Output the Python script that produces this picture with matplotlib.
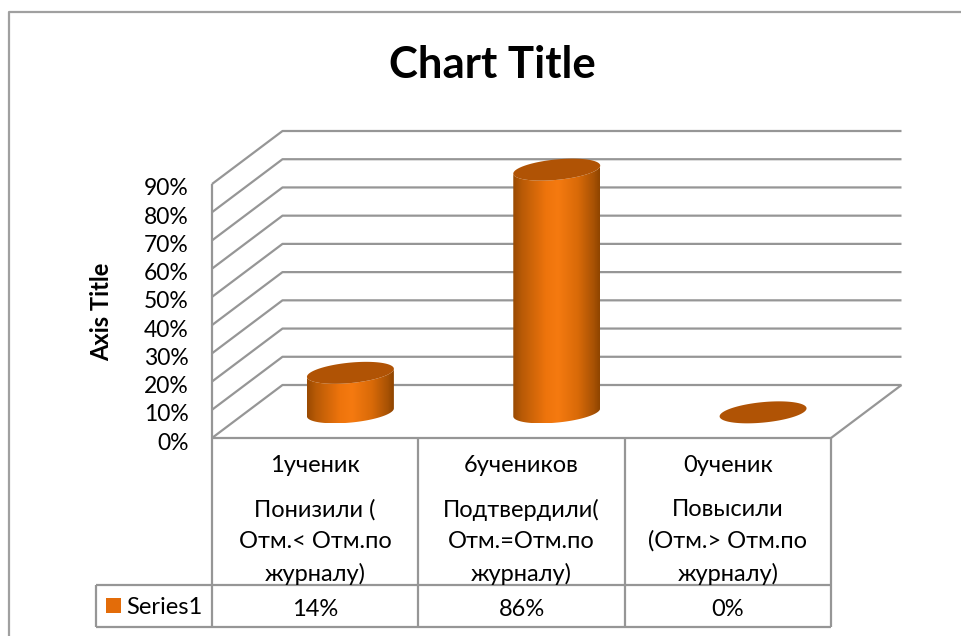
import matplotlib
matplotlib.use('Agg')
import matplotlib.pyplot as plt
import numpy as np
from matplotlib.colors import LinearSegmentedColormap
from matplotlib.lines import Line2D
from matplotlib.patches import Polygon, Rectangle
from matplotlib.transforms import ScaledTranslation

plt.rcParams['font.family'] = ['Lato', 'Noto Sans', 'DejaVu Sans']

counts = ['1ученик', '6учеников', '0ученик']
groups = ['Понизили (\nОтм.< Отм.по\nжурналу)',
          'Подтвердили(\nОтм.=Отм.по\nжурналу)',
          'Повысили\n(Отм.> Отм.по\nжурналу)']
values = [14, 86, 0]
valueLabels = ['14%', '86%', '0%']
yTicks = [0, 10, 20, 30, 40, 50, 60, 70, 80, 90]
seriesName = 'Series1'

W, H = 962, 636
LEFT, RIGHT, BASE, TOP = 212, 831, 438, 184
GRID = '#969696'
LID = '#B05305'
TEXT = 17

fig = plt.figure(figsize=(W / 100, H / 100), dpi=100)
ax = fig.add_axes([LEFT / W, 1 - BASE / H, (RIGHT - LEFT) / W, (BASE - TOP) / H])
ax.set_xlim(0, len(values))
ax.set_ylim(0, 90)
ax.set_facecolor('none')

# px -> data scale
sx = len(values) / (RIGHT - LEFT)
sy = 90 / (BASE - TOP)
depthX = 70.5 * sx
depthY = 53 * sy

for s in ax.spines.values():
    s.set_visible(False)
ax.set_xticks([])
ax.set_yticks(yTicks)
ax.set_yticklabels(['%d%%' % t for t in yTicks], fontsize=16.5, color='black')
ax.tick_params(axis='y', length=0, pad=17)
# labels sit a little under their gridline
down = ScaledTranslation(0, -3 / 100, fig.dpi_scale_trans)
for lab in ax.get_yticklabels():
    lab.set_transform(lab.get_transform() + down)


def line(xs, ys, lw=1.6):
    ax.plot(xs, ys, color=GRID, lw=lw, clip_on=False, solid_capstyle='butt', zorder=1)


# walls and floor
for t in yTicks:
    line([0, depthX, len(values) + depthX], [t, t + depthY, t + depthY])
line([0, 0], [0, 90])
line([len(values), len(values) + depthX], [0, depthY])

# data table
row1 = -(585 - BASE) * sy
row2 = -(627 - BASE) * sy
legendX = -(LEFT - 96) * sx
line([0, len(values)], [0, 0])
line([legendX, len(values)], [row1, row1])
line([legendX, len(values)], [row2, row2])
line([legendX, legendX], [row1, row2])
for i in range(len(values) + 1):
    line([i, i], [0, row2])

for i in range(len(values)):
    ax.text(i + 0.5, -(466 - BASE) * sy, counts[i], ha='center', va='center', fontsize=TEXT)
    ax.text(i + 0.5, -(542 - BASE) * sy, groups[i], ha='center', va='center', fontsize=TEXT,
            linespacing=1.6)
    ax.text(i + 0.5, -(609 - BASE) * sy, valueLabels[i], ha='center', va='center', fontsize=TEXT)
ax.add_patch(Rectangle((legendX + 10 * sx, -(613 - BASE) * sy), 15 * sx, 15 * sy,
                       fc='#E36C09', ec='none', clip_on=False, zorder=3))
ax.text(legendX + 30 * sx, -(607 - BASE) * sy, seriesName, ha='left', va='center', fontsize=TEXT)

# cylinders
rx, shear, ry = 40.5 * sx, 15.8 * sx, 11 * sy
cmap = LinearSegmentedColormap.from_list('cyl', [(0, '#9A4A02'), (0.1, '#B85A06'), (0.38, '#EE740C'),
                                                 (0.52, '#F57A10'), (0.75, '#D96A08'), (0.93, '#A85204'),
                                                 (1, '#8F4500')])
tangent = np.arctan2(shear, rx)


def rim(cx, cy, t):
    return np.column_stack([cx + rx * np.cos(t) + shear * np.sin(t), cy + ry * np.sin(t)])


for i, v in enumerate(values):
    cx = i + 0.5 + depthX / 2
    cy = depthY / 2 - 0.3
    full = np.linspace(0, 2 * np.pi, 120)
    if v > 0:
        front = np.linspace(tangent + np.pi, tangent + 2 * np.pi, 60)
        pts = np.vstack([rim(cx, cy, front), rim(cx, cy + v, front[::-1])])
        halfW = np.hypot(rx, shear)
        img = ax.imshow(np.linspace(0, 1, 200).reshape(1, -1), cmap=cmap, aspect='auto',
                        extent=[cx - halfW, cx + halfW, cy - ry, cy + v + ry], zorder=2)
        clip = Polygon(pts, closed=True, transform=ax.transData, fc='none', ec='none')
        ax.add_patch(clip)
        img.set_clip_path(clip)
        img.set_clip_box(fig.bbox)
    ax.add_patch(Polygon(rim(cx, cy + v, full), closed=True, fc=LID, ec='none', zorder=3, clip_on=False))

ax.set_xlim(0, len(values))
ax.set_ylim(0, 90)

# chart frame
fig.add_artist(Line2D([9 / W, 9 / W, 1], [0, 1 - 12 / H, 1 - 12 / H], color='#A0A0A0', lw=1.6))

fig.text(492 / W, 1 - 65 / H, 'Chart Title', ha='center', va='center', fontsize=31.5, fontweight='bold')
fig.text(102 / W, 1 - 312 / H, 'Axis Title', ha='center', va='center', rotation=90,
         fontsize=17, fontweight='bold')

fig.savefig('out.png', dpi=100)
